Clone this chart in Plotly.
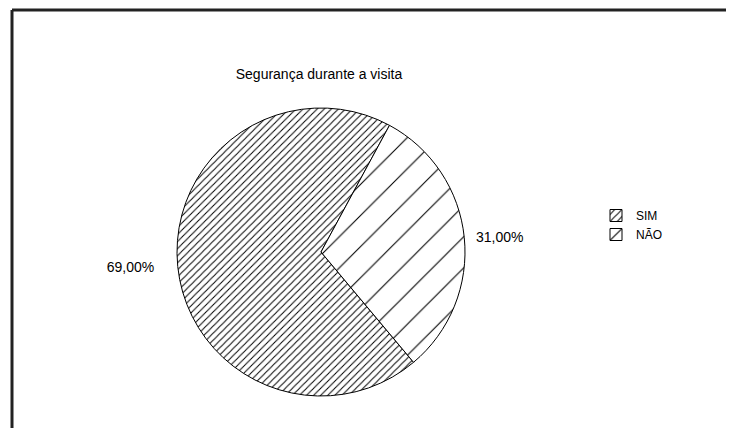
import plotly.graph_objects as go

categories = ["SIM", "NÃO"]
values = [69.0, 31.0]
value_labels = ["69,00%", "31,00%"]
title_text = "Segurança durante a visita"

W, H = 734, 428
OFF = 8  # page body margin
NBSP = "\u00a0"


def xp(px):
    return (px - OFF) / W


def yp(py):
    return 1 - (py - OFF) / H


FONT = "Liberation Sans, Arial, sans-serif"

# padding so outside labels sit a little further from the pie, as in the reference
shown_labels = [value_labels[0] + NBSP * 5, NBSP * 2 + value_labels[1]]

fig = go.Figure()
fig.add_trace(go.Pie(
    labels=categories,
    values=values,
    text=shown_labels,
    textinfo="text",
    textposition="outside",
    sort=False,
    direction="counterclockwise",
    rotation=140,
    hoverinfo="label+percent",
    marker=dict(
        colors=["white", "white"],
        line=dict(color="#000000", width=1),
        pattern=dict(
            shape=["/", "/"],
            size=[5, 22],
            solidity=[0.2, 0.05],
            fgcolor="#000000",
            bgcolor="#ffffff",
        ),
    ),
    outsidetextfont=dict(family=FONT, size=14, color="#000000"),
    domain=dict(x=[xp(177), xp(465)], y=[yp(396), yp(108)]),
    showlegend=True,
))

fig.update_layout(
    width=W, height=H,
    margin=dict(l=0, r=0, t=0, b=0),
    paper_bgcolor="white",
    plot_bgcolor="white",
    font=dict(family=FONT, color="#000000"),
    title=dict(
        text=title_text,
        x=xp(319), xanchor="center",
        y=yp(74), yanchor="middle",
        font=dict(size=14, family=FONT, color="#000000"),
    ),
    legend=dict(
        x=xp(596), xanchor="left",
        y=yp(201), yanchor="top",
        font=dict(size=12, family=FONT, color="#000000"),
        bgcolor="rgba(0,0,0,0)",
        itemwidth=30,
    ),
    shapes=[
        dict(type="line", xref="paper", yref="paper",
             x0=xp(12), x1=1.05, y0=yp(10), y1=yp(10),
             line=dict(color="#222222", width=3)),
        dict(type="line", xref="paper", yref="paper",
             x0=xp(12), x1=xp(12), y0=yp(10), y1=-0.05,
             line=dict(color="#222222", width=3)),
    ],
)

fig.write_html("out.html")
